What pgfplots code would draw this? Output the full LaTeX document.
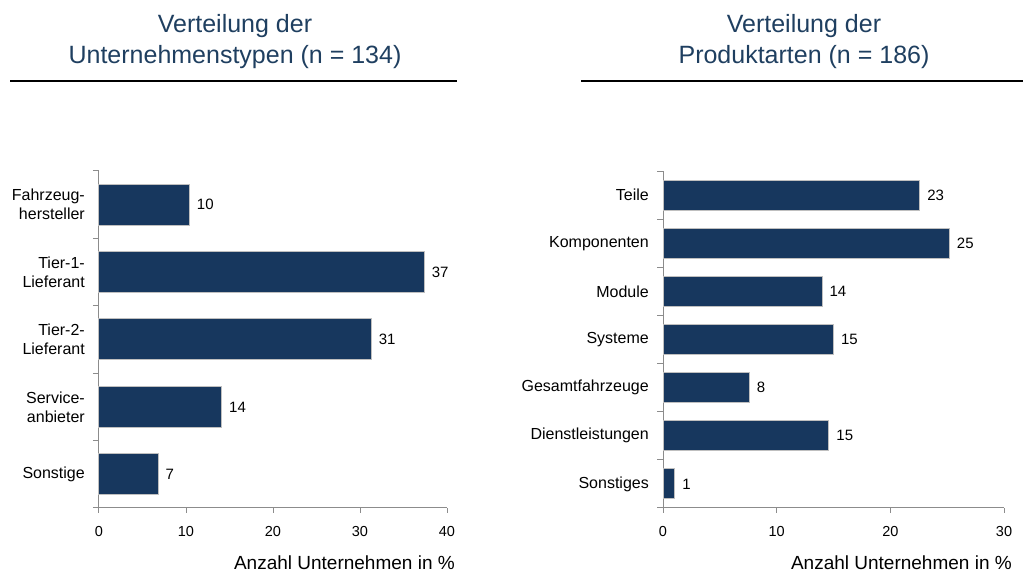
\documentclass[border=0pt]{standalone}
\usepackage{pgfplots}
\pgfplotsset{compat=1.18}
\usepackage{fontspec}
\setmainfont{Liberation Sans}
\definecolor{barblue}{HTML}{17375E}
\definecolor{titleblue}{HTML}{1F3F60}
\definecolor{axgray}{HTML}{8C8C8C}
\definecolor{bargray}{HTML}{BFBFBF}
\pgfplotsset{
  mybar/.style={
    xbar, scale only axis, height=337pt,
    xmin=0, ymin=-0.5,
    axis x line=bottom, axis y line=left,
    axis line style={-, axgray, line width=1pt},
    tick align=outside,
    major tick length=5pt, minor tick length=6pt,
    major x tick style={axgray, line width=1pt},
    major y tick style={draw=none},
    minor y tick style={axgray, line width=1pt},
    ytick={0,...,10},
    /pgf/number format/assume math mode=true,
    xticklabel style={font=\fontsize{14.5}{17}\selectfont, anchor=base, yshift=-24pt},
    yticklabel style={font=\fontsize{16}{19}\selectfont, align=right, anchor=east, inner sep=0pt, xshift=-9pt},
    xlabel style={font=\fontsize{19}{22}\selectfont, at={(axis description cs:1,0)}, anchor=base east, inner sep=0pt, xshift=8pt, yshift=-62pt},
    xlabel={Anzahl Unternehmen in \%},
    nodes near coords={\pgfmathprintnumber[fixed,precision=0]{\pgfplotspointmeta}},
    every node near coord/.append style={font=\fontsize{15}{18}\selectfont, anchor=west, inner sep=0pt, xshift=7pt, color=black},
    clip=false,
  },
  mybarplot/.style={fill=barblue, draw=bargray, line width=1pt},
}
\begin{document}
\begin{tikzpicture}[x=1pt,y=1pt]
\useasboundingbox (0,0) rectangle (1023,572);
% titles
\begin{scope}[every node/.style={text=titleblue, font=\fontsize{25}{31}\selectfont, inner sep=0pt, anchor=base}]
\node at (235,539) {Verteilung der};
\node at (235,508) {Unternehmenstypen (n = 134)};
\node at (804,539) {Verteilung der};
\node at (804,508) {Produktarten (n = 186)};
\end{scope}
\draw[line width=2pt] (10,490.5) -- (457,490.5);
\draw[line width=2pt] (581,490.5) -- (1023,490.5);
% left chart
\begin{axis}[mybar, at={(99pt,64pt)}, anchor=south west,
  width=348pt, xmax=40, ymax=4.5, bar width=41pt,
  xtick={0,10,20,30,40},
  minor ytick={-0.5,0.5,...,4.5},
  yticklabels={Sonstige, {Service-\\anbieter}, {Tier-2-\\Lieferant}, {Tier-1-\\Lieferant}, {Fahrzeug-\\hersteller}},
]
\addplot[mybarplot] coordinates {(6.8,0) (14.1,1) (31.3,2) (37.4,3) (10.4,4)};
\end{axis}
% right chart
\begin{axis}[mybar, at={(663pt,64pt)}, anchor=south west,
  width=341pt, xmax=30, ymax=6.5, bar width=30pt,
  xtick={0,10,20,30},
  minor ytick={-0.5,0.5,...,6.5},
  yticklabels={Sonstiges, Dienstleistungen, Gesamtfahrzeuge, Systeme, Module, Komponenten, Teile},
]
\addplot[mybarplot] coordinates {(1.05,0) (14.6,1) (7.6,2) (15.0,3) (14.0,4) (25.2,5) (22.6,6)};
\end{axis}
\end{tikzpicture}
\end{document}
